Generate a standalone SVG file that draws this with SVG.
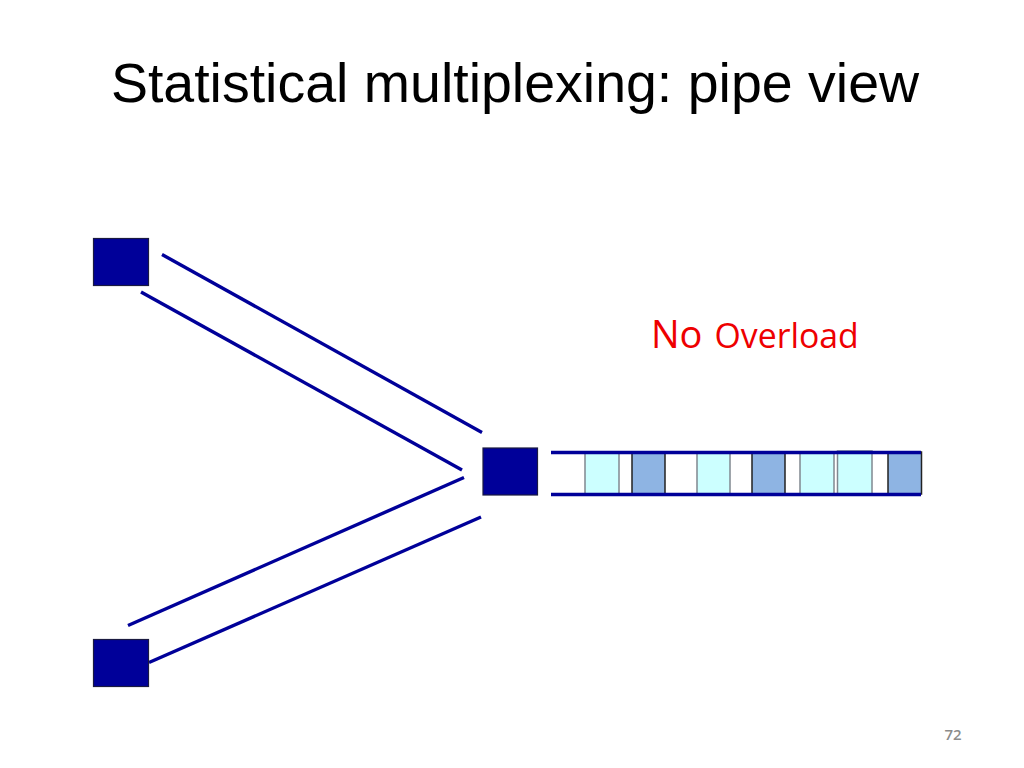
<svg xmlns="http://www.w3.org/2000/svg" width="1024" height="768" viewBox="0 0 1024 768">
<style>
.node{fill:#000099;stroke:#1a1a40;stroke-width:1.2}
.link{stroke:#000099;stroke-width:3.4;fill:none}
.cy{fill:#ccffff;stroke:#808890;stroke-width:1.5}
.bl{fill:#8eb4e3;stroke:#222;stroke-width:1.5}
.title{font-family:"Liberation Sans",Arial,sans-serif;font-size:55.5px;fill:#000}
</style>
<rect width="1024" height="768" fill="#fff"/>
<text class="title" x="515" y="101.5" text-anchor="middle">Statistical multiplexing: pipe view</text>
<g id="links">
<line class="link" x1="162" y1="254.5" x2="482" y2="432.5"/>
<line class="link" x1="141" y1="292" x2="462" y2="470"/>
<line class="link" x1="128" y1="625.5" x2="464" y2="477.5"/>
<line class="link" x1="149" y1="662.5" x2="481" y2="517"/>
</g>
<g id="node-top"><rect class="node" x="93.5" y="238.5" width="55" height="47"/></g>
<g id="node-bottom"><rect class="node" x="93.5" y="639.5" width="55" height="47"/></g>
<g id="node-mux"><rect class="node" x="483" y="448" width="54.5" height="47"/></g>
<g id="pipe">
<rect class="cy" x="585" y="452" width="34" height="42"/>
<rect class="bl" x="632" y="452" width="33" height="42"/>
<rect class="cy" x="697" y="452" width="33" height="42"/>
<rect class="bl" x="752" y="452" width="33" height="42"/>
<rect class="cy" x="800" y="452" width="34" height="42"/>
<rect class="cy" x="837.5" y="451" width="34.5" height="43"/>
<rect class="bl" x="888" y="452" width="33.5" height="42"/>
<line class="link" x1="551" y1="452.5" x2="921" y2="452.5"/>
<line class="link" x1="551" y1="494.5" x2="921" y2="494.5"/>
</g>
<text x="651" y="348" font-family="'Open Sans','Noto Sans',sans-serif" fill="#ee0000"><tspan font-size="38">No</tspan><tspan font-size="33.8" dx="12">Overload</tspan></text>
<text x="953" y="740" text-anchor="middle" font-family="'Open Sans','Liberation Sans',sans-serif" font-size="15" font-weight="600" fill="#8c8c8c">72</text>
</svg>
